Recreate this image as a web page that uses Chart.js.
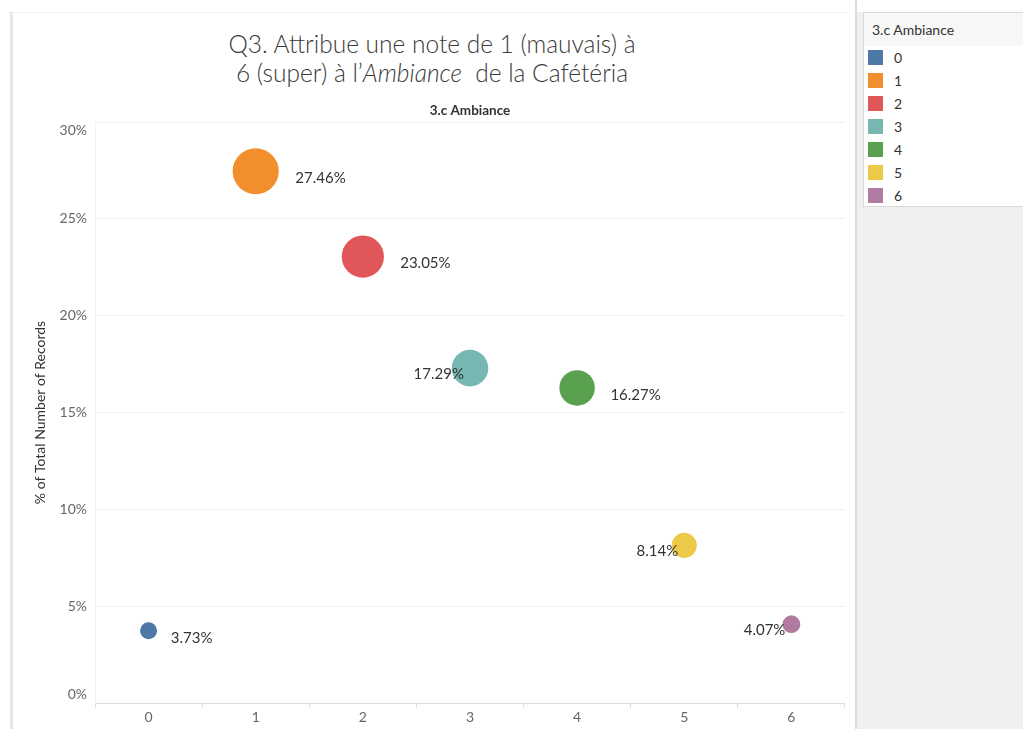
<!DOCTYPE html>
<html>
<head>
<meta charset="utf-8">
<script src="https://cdn.jsdelivr.net/npm/chart.js@4.4.1/dist/chart.umd.min.js"></script>
<style>
  html, body { margin: 0; padding: 0; background: #ffffff; width: 1023px; height: 729px; overflow: hidden; font-family: Lato, "Open Sans", sans-serif; }
  #leftbar { position: absolute; left: 10px; top: 12px; width: 3px; height: 717px; background: #e6e6e6; }
  #topline { position: absolute; left: 8px; top: 12px; width: 842px; height: 1px; background: #f0f0f0; }
  #rightpanel { position: absolute; left: 855px; top: 0; width: 168px; height: 729px; background: #f0f0f0; border-left: 2px solid #dcdcdc; box-sizing: border-box; }
  #rightpanel-top { position: absolute; left: 857px; top: 0; width: 166px; height: 12px; background: #ffffff; }
  #legend { position: absolute; left: 863px; top: 12px; width: 170px; height: 195px; background: #ffffff; border: 1px solid #d9d9d9; box-sizing: border-box; }
  #legend .hdr { height: 33px; background: #f7f7f7; font-size: 14px; color: #333; line-height: 33px; padding-left: 8px; }
  #legend .item { position: absolute; left: 4px; height: 16px; font-size: 14px; color: #333; line-height: 16px; }
  #legend .sw { position: absolute; left: 0; top: 0; width: 15px; height: 15px; }
  #legend .lb { position: absolute; left: 26px; top: 0; }
  #title { position: absolute; left: 14px; width: 836px; top: 29px; text-align: center; font-size: 24.5px; line-height: 29px; color: #3a3a3a; font-family: Lato, sans-serif; font-weight: 300; }
  #wrap { position: absolute; left: 14px; top: 0; width: 854px; height: 729px; }
</style>
</head>
<body>
<div id="topline"></div>
<div id="leftbar"></div>
<div id="rightpanel"></div>
<div id="rightpanel-top"></div>
<div id="title">Q3. Attribue une note de 1 (mauvais) à<br>6 (super) à l’<i>Ambiance</i>&nbsp; de la Cafétéria</div>
<div id="wrap"><canvas id="c" width="854" height="729"></canvas></div>
<div id="legend"><div class="hdr" id="legendTitle"></div></div>
<script>
const categories = ['0', '1', '2', '3', '4', '5', '6'];
const percentValues = [3.73, 27.46, 23.05, 17.29, 16.27, 8.14, 4.07];
const yTicks = [0, 5, 10, 15, 20, 25, 30];
const colors = ['#4e79a7', '#f28e2b', '#e15759', '#76b7b2', '#59a14f', '#edc948', '#b07aa1'];
const dimensionName = '3.c Ambiance';
const yAxisTitle = '% of Total Number of Records';

// label placement (style only)
const labelSide = ['right', 'right', 'right', 'left', 'right', 'left', 'left'];

// legend
const legendEl = document.getElementById('legend');
document.getElementById('legendTitle').textContent = dimensionName;
categories.forEach((c, i) => {
  const it = document.createElement('div');
  it.className = 'item';
  it.style.top = (37 + i * 23) + 'px';
  it.innerHTML = '<div class="sw" style="background:' + colors[i] + '"></div><div class="lb">' + c + '</div>';
  legendEl.appendChild(it);
});

const sizeOf = v => 4.4 * Math.sqrt(v);
const FONT = 'Lato, "Open Sans", sans-serif';
const yMin = yTicks[0], yMax = yTicks[yTicks.length - 1];

const labelPlugin = {
  id: 'pointLabels',
  afterDatasetsDraw(chart) {
    const ctx = chart.ctx;
    const meta = chart.getDatasetMeta(0);
    ctx.save();
    ctx.font = '15px ' + FONT;
    ctx.fillStyle = '#333333';
    ctx.textBaseline = 'middle';
    meta.data.forEach((el, i) => {
      const v = percentValues[i];
      const r = sizeOf(v);
      const txt = v.toFixed(2) + '%';
      if (labelSide[i] === 'right') {
        ctx.textAlign = 'left';
        ctx.fillText(txt, el.x + r + 12 + r * 0.2, el.y + 7);
      } else {
        ctx.textAlign = 'right';
        ctx.fillText(txt, el.x - 6, el.y + 6);
      }
    });
    ctx.restore();
  }
};

// Tableau keeps the end tick labels inside the pane
const edgeTickPlugin = {
  id: 'edgeTicks',
  afterDraw(chart) {
    const s = chart.scales.y;
    const ctx = chart.ctx;
    ctx.save();
    ctx.font = '14px ' + FONT;
    ctx.fillStyle = '#666666';
    ctx.textAlign = 'right';
    ctx.textBaseline = 'middle';
    ctx.fillText(yMax + '%', s.right - 8, s.getPixelForValue(yMax) + 8);
    ctx.fillText(yMin + '%', s.right - 8, s.getPixelForValue(yMin) - 9);
    ctx.restore();
  }
};

new Chart(document.getElementById('c'), {
  type: 'bubble',
  data: {
    labels: categories,
    datasets: [{
      data: categories.map((c, i) => ({ x: c, y: percentValues[i] })),
      backgroundColor: colors,
      borderColor: colors,
      borderWidth: 0,
      radius: ctx => sizeOf(percentValues[ctx.dataIndex]),
      hoverRadius: 0
    }]
  },
  options: {
    responsive: false,
    animation: false,
    events: [],
    layout: { padding: { top: 103, right: 5, bottom: 0, left: 0 } },
    plugins: { legend: { display: false }, tooltip: { enabled: false }, title: { display: false } },
    scales: {
      x: {
        type: 'category',
        labels: categories,
        position: 'bottom',
        offset: true,
        afterFit(s) { s.height = 26; },
        grid: { offset: true, drawOnChartArea: false, drawTicks: true, tickLength: 5, color: '#dddddd' },
        border: { display: true, color: '#dddddd' },
        ticks: { color: '#666666', font: { family: FONT, size: 14 }, padding: 1 }
      },
      x2: {
        type: 'category',
        labels: categories,
        position: 'top',
        offset: true,
        afterFit(s) { s.height = 19; },
        grid: { display: false },
        border: { display: false },
        ticks: { display: false },
        title: { display: true, text: dimensionName, color: '#333333', font: { family: FONT, size: 13.5, weight: 'bold' }, padding: { top: 0, bottom: 1 } }
      },
      y: {
        min: yMin,
        max: yMax,
        afterFit(s) { s.width = 81; },
        afterBuildTicks(s) { s.ticks = yTicks.map(v => ({ value: v })); },
        grid: { color: '#f0f0f0', drawTicks: false },
        border: { display: true, color: '#f3f3f3' },
        ticks: { color: '#666666', font: { family: FONT, size: 14 }, padding: 8,
                 callback: v => (v === yMin || v === yMax) ? '' : v + '%' },
        title: { display: true, text: yAxisTitle, color: '#333333', font: { family: FONT, size: 14 }, padding: { top: 18, bottom: 0 } }
      }
    }
  },
  plugins: [labelPlugin, edgeTickPlugin]
});
</script>
</body>
</html>
